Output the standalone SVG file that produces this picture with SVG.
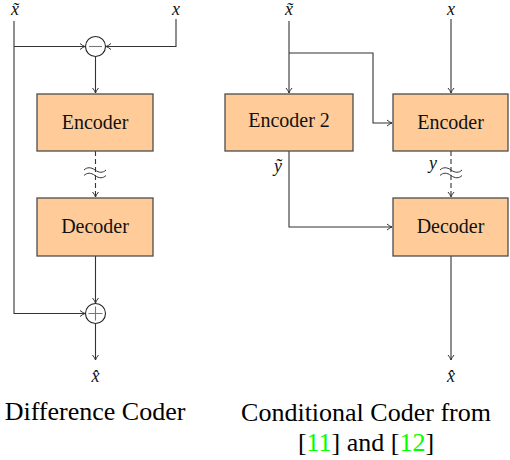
<svg xmlns="http://www.w3.org/2000/svg" width="510" height="460" viewBox="0 0 510 460" font-family="Liberation Serif, DejaVu Serif, Times New Roman, serif">
<style>
.box{fill:#ffcc99;stroke:#4d4d4d;stroke-width:1.3}
.ln{fill:none;stroke:#333;stroke-width:1.1}
.dash{stroke-dasharray:5,3}
.op{fill:#fff;stroke:#222;stroke-width:1.1}
.sgn{stroke:#777;stroke-width:1.1}
.wv{fill:none;stroke:#333;stroke-width:1}
.lbl{font-size:20px;fill:#111;text-anchor:middle}
.m{font-style:italic;font-size:18px;fill:#111;text-anchor:middle}
.cap{font-size:26px;fill:#000;text-anchor:middle}
.g{fill:#00ff00}
</style>
<defs>
<marker id="ar" viewBox="-6 -4 8 8" markerWidth="8" markerHeight="8" refX="0" refY="0" orient="auto" markerUnits="userSpaceOnUse">
<path d="M-5,-3 Q-2,-0.5 0,0 Q-2,0.5 -5,3" fill="none" stroke="#333" stroke-width="1"/>
</marker>
</defs>

<g id="connectors">
<path class="ln" d="M14,21 V313.5 H85" marker-end="url(#ar)"/>
<path class="ln" d="M14,46.5 H85" marker-end="url(#ar)"/>
<path class="ln" d="M176,19 V46.5 H106" marker-end="url(#ar)"/>
<path class="ln" d="M95.5,57 V93" marker-end="url(#ar)"/>
<path class="ln dash" d="M95.5,151 V197" marker-end="url(#ar)"/>
<path class="ln" d="M95.5,256 V303" marker-end="url(#ar)"/>
<path class="ln" d="M95.5,324 V360" marker-end="url(#ar)"/>
<path class="ln" d="M289,21 V93" marker-end="url(#ar)"/>
<path class="ln" d="M289,53 H373 V123 H392" marker-end="url(#ar)"/>
<path class="ln" d="M451,19 V93" marker-end="url(#ar)"/>
<path class="ln" d="M289,151 V227 H392" marker-end="url(#ar)"/>
<path class="ln dash" d="M451,151 V197" marker-end="url(#ar)"/>
<path class="ln" d="M451,256 V360" marker-end="url(#ar)"/>
<path class="wv" d="M84,170 c3,-3 7,-3 11,0 s8,3 11,0 M84,175.5 c3,-3 7,-3 11,0 s8,3 11,0"/>
<path class="wv" d="M440,170 c3,-3 7,-3 11,0 s8,3 11,0 M440,175.5 c3,-3 7,-3 11,0 s8,3 11,0"/>
</g>

<g id="minus">
<circle class="op" cx="95.5" cy="46.5" r="10"/>
<path class="sgn" d="M89,46.5 H102"/>
</g>
<g id="plus">
<circle class="op" cx="95.5" cy="313.5" r="10"/>
<path class="sgn" d="M88.5,313.5 H102.5 M95.5,306.5 V320.5"/>
</g>

<g id="encoder-left">
<rect class="box" x="37" y="94" width="116" height="57"/>
<text class="lbl" x="95" y="129">Encoder</text>
</g>
<g id="decoder-left">
<rect class="box" x="37" y="198" width="116" height="58"/>
<text class="lbl" x="95" y="233">Decoder</text>
</g>
<g id="encoder2">
<rect class="box" x="225" y="94" width="128" height="57"/>
<text class="lbl" x="289" y="127">Encoder 2</text>
</g>
<g id="encoder-right">
<rect class="box" x="393" y="94" width="115" height="57"/>
<text class="lbl" x="450.5" y="129">Encoder</text>
</g>
<g id="decoder-right">
<rect class="box" x="393" y="198" width="115" height="58"/>
<text class="lbl" x="450.5" y="233">Decoder</text>
</g>

<g id="labels">
<text class="m" x="15" y="15">x̃</text>
<text class="m" x="176" y="15">x</text>
<text class="m" x="95.5" y="382">x̂</text>
<text class="m" x="289" y="15">x̃</text>
<text class="m" x="451" y="15">x</text>
<text class="m" x="278" y="172">ỹ</text>
<text class="m" x="433" y="169">y</text>
<text class="m" x="451" y="382">x̂</text>
</g>

<g id="captions">
<text class="cap" x="95" y="420">Difference Coder</text>
<text class="cap" x="366" y="421">Conditional Coder from</text>
<text class="cap" x="366" y="451">[<tspan class="g">11</tspan>] and [<tspan class="g">12</tspan>]</text>
</g>
</svg>
